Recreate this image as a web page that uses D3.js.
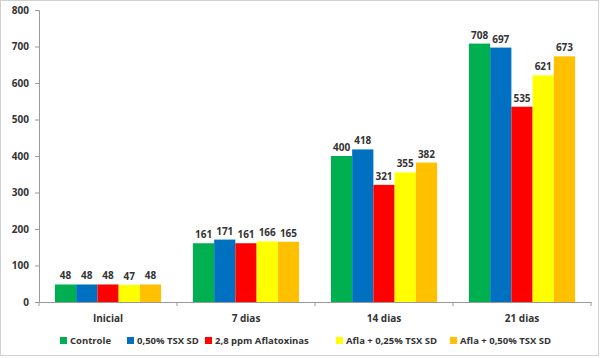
<!DOCTYPE html>
<html><head><meta charset="utf-8">
<script src="https://cdn.jsdelivr.net/npm/d3@7/dist/d3.min.js"></script>
<style>body{margin:0;background:#fff}svg{display:block}</style>
</head><body>
<svg id="c" width="600" height="358"></svg>
<script>
const categories = ["Inicial","7 dias","14 dias","21 dias"];
const seriesNames = ["Controle","0,50% TSX SD","2,8 ppm Aflatoxinas","Afla + 0,25% TSX SD","Afla + 0,50% TSX SD"];
const controle = [48,161,400,708];
const tsx050 = [48,171,418,697];
const aflatoxinas = [48,161,321,535];
const afla025 = [47,166,355,621];
const afla050 = [48,165,382,673];
const yTicks = [0,100,200,300,400,500,600,700,800];
const colors = ["#00b050","#0070c0","#ff0000","#ffff00","#ffc000"];

(function(){
const series = [controle,tsx050,aflatoxinas,afla025,afla050];
const svg = d3.select("#c");
const font = "'Open Sans', 'Liberation Sans', sans-serif";
const txt = "#333";

svg.append("rect").attr("x",0.5).attr("y",0.5).attr("width",598).attr("height",355)
  .attr("fill","#fff").attr("stroke","#d0d0d0");

const mLeft=39, mRight=591, mTop=10, mBottom=302;
const x0 = d3.scaleBand().domain(categories).range([mLeft,mRight]).paddingInner(0).paddingOuter(0);
const inner = x0.bandwidth();
const x1 = d3.scaleBand().domain(d3.range(5)).range([inner*0.75/6.5, inner - inner*0.75/6.5]).padding(0);
const y = d3.scaleLinear().domain([0,800]).range([mBottom,mTop]);

// y axis
const ya = svg.append("g").attr("transform",`translate(${mLeft},0)`)
  .call(d3.axisLeft(y).tickValues(yTicks).tickSize(4).tickPadding(6));
ya.select(".domain").attr("stroke","#999");
ya.selectAll(".tick line").attr("stroke","#999");
ya.selectAll("text").attr("font-family",font).attr("font-size","10px").attr("font-weight","bold").attr("fill",txt);

// x axis
const xa = svg.append("g").attr("transform",`translate(0,${mBottom})`)
  .call(d3.axisBottom(x0).tickSize(0).tickPadding(13));
xa.select(".domain").attr("stroke","#999");
xa.selectAll("text").attr("font-family",font).attr("font-size","10px").attr("font-weight","bold").attr("fill",txt);
const bounds = categories.map(c=>x0(c)).concat([mRight]);
svg.append("g").selectAll("line").data(bounds).join("line")
  .attr("x1",d=>d).attr("x2",d=>d).attr("y1",mBottom).attr("y2",mBottom+4).attr("stroke","#999");

// bars
const g = svg.append("g");
series.forEach((s,si)=>{
  g.selectAll(null).data(s).join("rect")
    .attr("x",(d,i)=>x0(categories[i]) + x1(si))
    .attr("y",d=>y(d)).attr("width",x1.bandwidth()).attr("height",d=>mBottom-y(d))
    .attr("fill",colors[si]);
  g.selectAll(null).data(s).join("text")
    .attr("x",(d,i)=>x0(categories[i]) + x1(si) + x1.bandwidth()/2)
    .attr("y",d=>y(d)-5).attr("text-anchor","middle")
    .attr("font-family",font).attr("font-size","10px").attr("font-weight","bold").attr("fill",txt)
    .text(d=>d);
});

// legend
const legX = [60,127,205,336,450];
const lg = svg.append("g");
seriesNames.forEach((n,i)=>{
  lg.append("rect").attr("x",legX[i]).attr("y",337).attr("width",7).attr("height",7).attr("fill",colors[i]);
  lg.append("text").attr("x",legX[i]+10).attr("y",344).attr("font-family",font).attr("font-size","9.5px")
    .attr("font-weight","bold").attr("fill",txt).text(n);
});
})();
</script>
</body></html>
